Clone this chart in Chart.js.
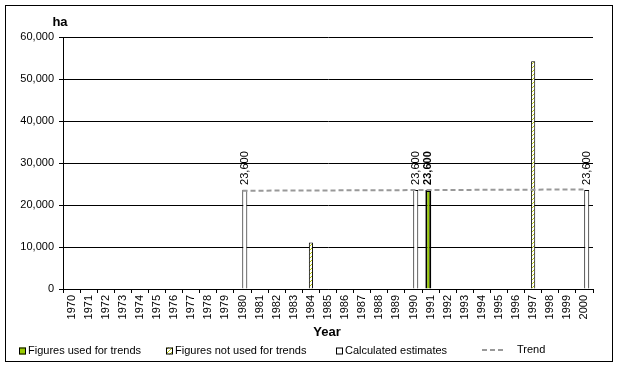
<!DOCTYPE html>
<html>
<head>
<meta charset="utf-8">
<script src="https://cdn.jsdelivr.net/npm/chart.js@4.4.1/dist/chart.umd.min.js"></script>
<style>
  html, body { margin: 0; padding: 0; background: #fff; }
  #wrap { width: 618px; height: 367px; }
</style>
</head>
<body>
<div id="wrap"><canvas id="chart" width="618" height="367"></canvas></div>
<script>
const years = ["1970", "1971", "1972", "1973", "1974", "1975", "1976", "1977", "1978", "1979",
  "1980", "1981", "1982", "1983", "1984", "1985", "1986", "1987", "1988", "1989",
  "1990", "1991", "1992", "1993", "1994", "1995", "1996", "1997", "1998", "1999", "2000"];

// figures used for trends
const usedYears = ["1991"];
const usedValues = [23600];
// figures not used for trends
const notUsedYears = ["1984", "1997"];
const notUsedValues = [11100, 54200];
// calculated estimates
const calcYears = ["1980", "1990", "2000"];
const calcValues = [23600, 23600, 23600];
// trend
const trendYears = ["1980", "2000"];
const trendValues = [23400, 23700];

const yTicks = [0, 10000, 20000, 30000, 40000, 50000, 60000];

const FONT = '"Liberation Sans", Arial, sans-serif';

function fill(keys, vals) {
  return years.map(y => {
    const i = keys.indexOf(y);
    return i < 0 ? null : vals[i];
  });
}

const canvas = document.getElementById("chart");
const ctx = canvas.getContext("2d");

function hatchPattern() {
  const p = document.createElement("canvas");
  p.width = 4;
  p.height = 4;
  const g = p.getContext("2d");
  g.fillStyle = "#ffffff";
  g.fillRect(0, 0, 4, 4);
  g.strokeStyle = "#b4c400";
  g.lineWidth = 1;
  g.beginPath();
  g.moveTo(0, 4);
  g.lineTo(4, 0);
  g.stroke();
  return ctx.createPattern(p, "repeat");
}
const hatch = hatchPattern();

const fmt = v => v.toLocaleString("en-US");

const extras = {
  id: "extras",
  beforeDraw(chart) {
    const c = chart.ctx;
    c.save();
    c.fillStyle = "#fff";
    c.fillRect(0, 0, chart.width, chart.height);
    c.restore();
  },
  afterDatasetsDraw(chart) {
    const c = chart.ctx;
    c.save();
    c.fillStyle = "#000";
    // value labels, rotated
    [0, 2].forEach(di => {
      const meta = chart.getDatasetMeta(di);
      const ds = chart.data.datasets[di];
      meta.data.forEach((el, i) => {
        const v = ds.data[i];
        if (v == null) return;
        c.save();
        c.translate(el.x, el.y - 5);
        c.rotate(-Math.PI / 2);
        c.font = (di === 0 ? "bold " : "") + "11px " + FONT;
        c.textAlign = "left";
        c.textBaseline = "middle";
        c.fillText(fmt(v), 0, 0);
        c.restore();
      });
    });
    c.restore();
  },
  afterDraw(chart) {
    const c = chart.ctx;
    c.save();
    // outer frame
    c.strokeStyle = "#000";
    c.lineWidth = 1;
    c.strokeRect(5.5, 5.5, 607, 356);
    // axis captions
    c.fillStyle = "#000";
    c.font = "bold 13px " + FONT;
    c.textAlign = "center";
    c.textBaseline = "middle";
    c.fillText("ha", 60, 22);
    c.fillText("Year", 327, 332);
    // legend
    c.font = "11px " + FONT;
    c.textAlign = "left";
    const ly = 351;
    const boxes = [
      { x: 19, ds: 0 },
      { x: 166, ds: 1 },
      { x: 336, ds: 2 }
    ];
    boxes.forEach(b => {
      const ds = chart.data.datasets[b.ds];
      c.fillStyle = ds.backgroundColor;
      c.fillRect(b.x, ly - 3.5, 7, 7);
      c.strokeStyle = "#000";
      c.strokeRect(b.x + 0.5, ly - 3, 6, 6);
      c.fillStyle = "#000";
      c.fillText(ds.label, b.x + 9, ly);
    });
    const tr = chart.data.datasets[3];
    c.strokeStyle = tr.borderColor;
    c.lineWidth = 2;
    c.setLineDash([5, 3]);
    c.beginPath();
    c.moveTo(482, ly - 1);
    c.lineTo(504, ly - 1);
    c.stroke();
    c.setLineDash([]);
    c.fillStyle = "#000";
    c.fillText(tr.label, 517, ly - 1.5);
    c.restore();
  }
};

new Chart(ctx, {
  type: "bar",
  data: {
    labels: years,
    datasets: [
      {
        label: "Figures used for trends",
        data: fill(usedYears, usedValues),
        backgroundColor: "#99cc00",
        borderColor: "#000",
        borderWidth: 2,
        barPercentage: 2.6,
        order: 2
      },
      {
        label: "Figures not used for trends",
        data: fill(notUsedYears, notUsedValues),
        backgroundColor: hatch,
        borderColor: "#000",
        borderWidth: 1,
        barPercentage: 1.8,
        order: 2
      },
      {
        label: "Calculated estimates",
        data: fill(calcYears, calcValues),
        backgroundColor: "#ffffff",
        borderColor: "#000",
        borderWidth: 1,
        barPercentage: 2.2,
        order: 2
      },
      {
        type: "line",
        label: "Trend",
        data: fill(trendYears, trendValues),
        borderColor: "#999999",
        borderWidth: 2,
        borderDash: [5, 3],
        pointRadius: 0,
        spanGaps: true,
        fill: false,
        order: 1
      }
    ]
  },
  options: {
    responsive: false,
    animation: false,
    devicePixelRatio: 1,
    layout: { padding: { left: 0, right: 25, top: 37, bottom: 0 } },
    datasets: { bar: { categoryPercentage: 0.4 } },
    plugins: {
      legend: { display: false },
      tooltip: { enabled: false }
    },
    scales: {
      x: {
        afterFit: s => { s.height = 78; },
        grid: {
          drawOnChartArea: false,
          drawTicks: true,
          tickLength: 4,
          color: "#000",
          offset: true
        },
        border: { color: "#000" },
        ticks: {
          autoSkip: false,
          minRotation: 90,
          maxRotation: 90,
          padding: 2,
          color: "#000",
          font: { family: FONT, size: 11 }
        }
      },
      y: {
        min: 0,
        max: 60000,
        afterFit: s => { s.width = 63; },
        afterBuildTicks: s => { s.ticks = yTicks.map(v => ({ value: v })); },
        grid: { color: "#000", tickLength: 4 },
        border: { color: "#000" },
        ticks: {
          padding: 5,
          color: "#000",
          font: { family: FONT, size: 11 },
          callback: v => fmt(v)
        }
      }
    }
  },
  plugins: [extras]
});
</script>
</body>
</html>
